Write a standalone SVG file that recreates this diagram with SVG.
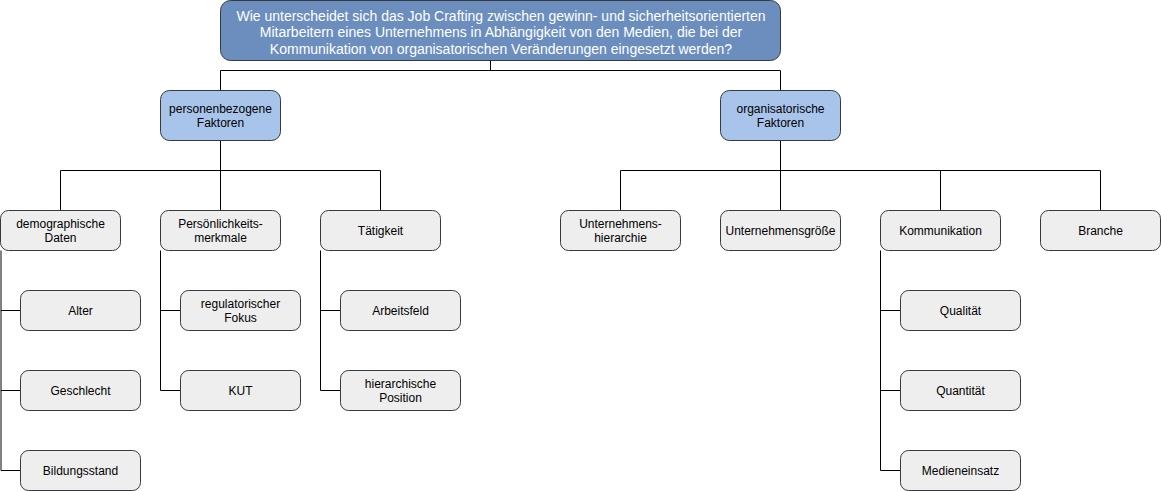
<svg xmlns="http://www.w3.org/2000/svg" width="1161" height="491" viewBox="0 0 1161 491">
<style>
text{font-family:"Liberation Sans",Arial,Helvetica,sans-serif;font-size:12px;fill:#000;text-anchor:middle}
.top rect{fill:#6c8ebf;stroke:#36393d;stroke-width:1}
.top text{fill:#fff;font-size:14px}
.l1 rect{fill:#a9c4eb;stroke:#36393d;stroke-width:1}
.n rect{fill:#eeeeee;stroke:#36393d;stroke-width:1}
#connectors path{fill:none;stroke:#000;stroke-width:1}
</style>
<rect width="1161" height="491" fill="#fff"/>
<g id="connectors">
<path d="M490.5 60.5V70.5M220.5 70.5H780.5M220.5 70.5V90.5M780.5 70.5V90.5"/>
<path d="M220.5 140.5V170.5M60.5 170.5H380.5M60.5 170.5V210.5M220.5 170.5V210.5M380.5 170.5V210.5"/>
<path d="M780.5 140.5V170.5M620.5 170.5H1100.5M620.5 170.5V210.5M780.5 170.5V210.5M940.5 170.5V210.5M1100.5 170.5V210.5"/>
<path d="M1 250.5V470.5H20.5M1 310.5H20.5M1 390.5H20.5"/>
<path d="M160.5 250.5V390.5H180.5M160.5 310.5H180.5"/>
<path d="M320.5 250.5V390.5H340.5M320.5 310.5H340.5"/>
<path d="M880.5 250.5V470.5H900.5M880.5 310.5H900.5M880.5 390.5H900.5"/>
</g>
<g id="question" class="top"><rect x="220.5" y="0.5" width="560" height="60" rx="10"/>
<text x="501" y="20.5">Wie unterscheidet sich das Job Crafting zwischen gewinn- und sicherheitsorientierten</text>
<text x="501" y="37">Mitarbeitern eines Unternehmens in Abhängigkeit von den Medien, die bei der</text>
<text x="501" y="53.5">Kommunikation von organisatorischen Veränderungen eingesetzt werden?</text></g>
<g id="personenbezogene" class="l1"><rect x="160.5" y="90.5" width="120" height="50" rx="9"/>
<text x="220.5" y="112.5">personenbezogene</text><text x="220.5" y="126.5">Faktoren</text></g>
<g id="organisatorische" class="l1"><rect x="720.5" y="90.5" width="120" height="50" rx="9"/>
<text x="780.5" y="112.5">organisatorische</text><text x="780.5" y="126.5">Faktoren</text></g>
<g id="demographische" class="n"><rect x="0.5" y="210.5" width="120" height="40" rx="8"/>
<text x="60.5" y="227.5">demographische</text><text x="60.5" y="241.5">Daten</text></g>
<g id="persoenlichkeit" class="n"><rect x="160.5" y="210.5" width="120" height="40" rx="8"/>
<text x="220.5" y="227.5">Persönlichkeits-</text><text x="220.5" y="241.5">merkmale</text></g>
<g id="taetigkeit" class="n"><rect x="320.5" y="210.5" width="120" height="40" rx="8"/>
<text x="380.5" y="234.5">Tätigkeit</text></g>
<g id="alter" class="n"><rect x="20.5" y="290.5" width="120" height="40" rx="8"/>
<text x="80.5" y="314.5">Alter</text></g>
<g id="geschlecht" class="n"><rect x="20.5" y="370.5" width="120" height="40" rx="8"/>
<text x="80.5" y="394.5">Geschlecht</text></g>
<g id="bildungsstand" class="n"><rect x="20.5" y="450.5" width="120" height="40" rx="8"/>
<text x="80.5" y="474.5">Bildungsstand</text></g>
<g id="regulatorisch" class="n"><rect x="180.5" y="290.5" width="120" height="40" rx="8"/>
<text x="240.5" y="307.5">regulatorischer</text><text x="240.5" y="321.5">Fokus</text></g>
<g id="kut" class="n"><rect x="180.5" y="370.5" width="120" height="40" rx="8"/>
<text x="240.5" y="394.5">KUT</text></g>
<g id="arbeitsfeld" class="n"><rect x="340.5" y="290.5" width="120" height="40" rx="8"/>
<text x="400.5" y="314.5">Arbeitsfeld</text></g>
<g id="hierposition" class="n"><rect x="340.5" y="370.5" width="120" height="40" rx="8"/>
<text x="400.5" y="387.5">hierarchische</text><text x="400.5" y="401.5">Position</text></g>
<g id="unternehmenshierarchie" class="n"><rect x="560.5" y="210.5" width="120" height="40" rx="8"/>
<text x="620.5" y="227.5">Unternehmens-</text><text x="620.5" y="241.5">hierarchie</text></g>
<g id="unternehmensgroesse" class="n"><rect x="720.5" y="210.5" width="120" height="40" rx="8"/>
<text x="780.5" y="234.5">Unternehmensgröße</text></g>
<g id="kommunikation" class="n"><rect x="880.5" y="210.5" width="120" height="40" rx="8"/>
<text x="940.5" y="234.5">Kommunikation</text></g>
<g id="branche" class="n"><rect x="1040.5" y="210.5" width="120" height="40" rx="8"/>
<text x="1100.5" y="234.5">Branche</text></g>
<g id="qualitaet" class="n"><rect x="900.5" y="290.5" width="120" height="40" rx="8"/>
<text x="960.5" y="314.5">Qualität</text></g>
<g id="quantitaet" class="n"><rect x="900.5" y="370.5" width="120" height="40" rx="8"/>
<text x="960.5" y="394.5">Quantität</text></g>
<g id="medieneinsatz" class="n"><rect x="900.5" y="450.5" width="120" height="40" rx="8"/>
<text x="960.5" y="474.5">Medieneinsatz</text></g>
</svg>
